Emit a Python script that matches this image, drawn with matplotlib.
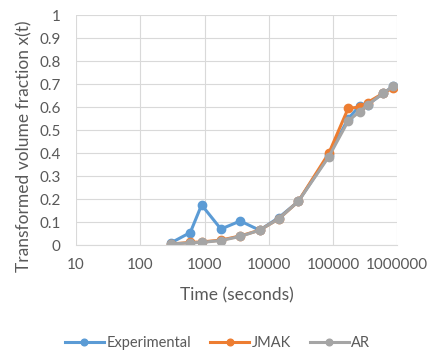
import matplotlib
matplotlib.use("Agg")
import matplotlib.pyplot as plt
from matplotlib.ticker import FixedLocator, NullLocator

plt.rcParams['font.family'] = ['Lato', 'DejaVu Sans']

time_s = [300, 600, 900, 1800, 3600, 7200, 14400, 28800, 86400, 172800, 259200, 345600, 604800, 864000]
experimental = [0.01, 0.055, 0.175, 0.07, 0.105, 0.065, 0.12, 0.19, 0.39, 0.55, 0.605, 0.61, 0.66, 0.69]
jmak = [0.005, 0.012, 0.014, 0.022, 0.04, 0.065, 0.115, 0.19, 0.40, 0.595, 0.60, 0.62, 0.66, 0.685]
ar = [0.005, 0.01, 0.012, 0.02, 0.038, 0.065, 0.115, 0.19, 0.385, 0.54, 0.58, 0.61, 0.66, 0.69]

x_ticks = [10, 100, 1000, 10000, 100000, 1000000]
x_labels = ["10", "100", "1000", "10000", "100000", "1000000"]
y_ticks = [0, 0.1, 0.2, 0.3, 0.4, 0.5, 0.6, 0.7, 0.8, 0.9, 1]
y_labels = ["0", "0.1", "0.2", "0.3", "0.4", "0.5", "0.6", "0.7", "0.8", "0.9", "1"]

fig = plt.figure(figsize=(4.35, 3.6), dpi=100)
ax = fig.add_axes([0.175, 0.319, 0.738, 0.639])

series = [("Experimental", experimental, "#5B9BD5"),
          ("JMAK", jmak, "#ED7D31"),
          ("AR", ar, "#A5A5A5")]
for name, vals, c in series:
    ax.plot(time_s, vals, color=c, lw=2.2, marker='o', ms=6, label=name)

ax.set_xscale('log')
ax.set_xlim(10, 1000000)
ax.set_ylim(0, 1)
ax.xaxis.set_major_locator(FixedLocator(x_ticks))
ax.xaxis.set_minor_locator(NullLocator())
ax.set_xticklabels(x_labels)
ax.set_yticks(y_ticks)
ax.set_yticklabels(y_labels)
ax.grid(True, color='#D9D9D9', lw=0.8)
ax.set_axisbelow(True)
for s in ['top', 'right', 'left']:
    ax.spines[s].set_visible(False)
ax.spines['bottom'].set_color('#D9D9D9')
ax.tick_params(length=0, labelsize=11, colors='#595959')
ax.tick_params(axis='x', pad=9)
ax.tick_params(axis='y', pad=11)
ax.set_xlabel("Time (seconds)", fontsize=12.5, color='#595959')
ax.set_ylabel("Transformed volume fraction x(t)", fontsize=12.5, color='#595959')
ax.xaxis.set_label_coords(0.50, -0.217)
ax.yaxis.set_label_coords(-0.162, 0.43)
ax.xaxis.label.set_va('center')
ax.yaxis.label.set_va('center')

leg = fig.legend(loc='center', bbox_to_anchor=(0.5, 0.047), ncol=3, frameon=False,
                 fontsize=10.5, handlelength=2.7, markerscale=0.8, columnspacing=1.3, handletextpad=0.15)
for t in leg.get_texts():
    t.set_color('#595959')

fig.savefig("out.png", dpi=100)
